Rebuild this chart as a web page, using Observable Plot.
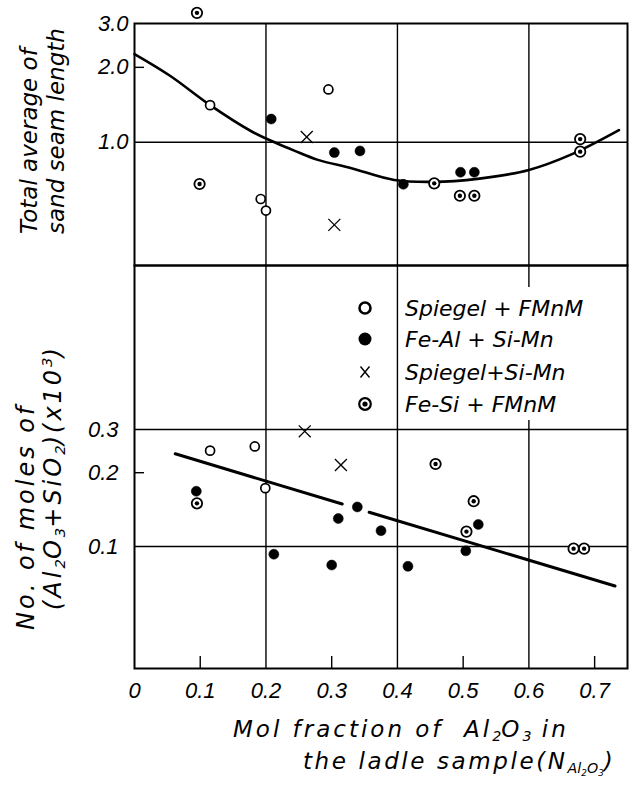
<!DOCTYPE html>
<html><head><meta charset="utf-8">
<script src="https://cdn.jsdelivr.net/npm/d3@7"></script>
<script src="https://cdn.jsdelivr.net/npm/@observablehq/plot@0.6"></script>
<style>
body{margin:0;background:#fff;}
#wrap{position:relative;width:633px;height:785px;overflow:hidden;font-family:"DejaVu Sans",sans-serif;font-style:italic;color:#000;background:#fff;}
#wrap > svg{position:absolute;left:0;overflow:visible;}
#wrap > svg text{font-style:italic;}
.ttl{position:absolute;white-space:nowrap;font-size:22px;line-height:25px;}
.rot{transform-origin:0 0;transform:rotate(-90deg);}
sub{font-size:0.62em;vertical-align:-0.3em;line-height:0;letter-spacing:0;}
sup{font-size:0.62em;vertical-align:0.6em;line-height:0;letter-spacing:0;}
#legbox{position:absolute;left:403px;top:287px;width:200px;height:133px;background:#fff;}
.leg{position:absolute;left:356px;height:30px;display:flex;align-items:center;white-space:nowrap;font-size:22px;}
.leg svg{width:18px;height:18px;margin-right:31px;}
</style></head>
<body><div id="wrap"></div>
<script>
// ---------- data ----------
const xTickValues = [0, 0.1, 0.2, 0.3, 0.4, 0.5, 0.6, 0.7];
const topYTicks = [1, 2, 3];
const lowYTicks = [0.1, 0.2, 0.3];

// upper panel: total average of sand seam length
const topSpiegelFMnM_x = [0.115, 0.192, 0.200, 0.295];
const topSpiegelFMnM_y = [1.41, 0.592, 0.532, 1.63];
const topFeAl_x = [0.208, 0.304, 0.343, 0.409, 0.496, 0.517];
const topFeAl_y = [1.24, 0.909, 0.923, 0.678, 0.758, 0.758];
const topSpiegelSi_x = [0.262, 0.304];
const topSpiegelSi_y = [1.05, 0.466];
const topFeSi_x = [0.095, 0.099, 0.456, 0.495, 0.517, 0.678, 0.678];
const topFeSi_y = [3.31, 0.68, 0.684, 0.61, 0.61, 1.03, 0.917];
const topCurve_x = [0, 0.054, 0.115, 0.177, 0.213, 0.243, 0.279, 0.33, 0.395, 0.47, 0.547, 0.6, 0.663, 0.737];
const topCurve_y = [2.26, 1.85, 1.41, 1.11, 1.0, 0.926, 0.85, 0.787, 0.706, 0.695, 0.728, 0.774, 0.89, 1.12];

// lower panel: no. of moles of (Al2O3+SiO2) (x10^3)
const lowSpiegelFMnM_x = [0.115, 0.183, 0.199];
const lowSpiegelFMnM_y = [0.246, 0.256, 0.173];
const lowFeAl_x = [0.094, 0.212, 0.300, 0.310, 0.339, 0.375, 0.416, 0.504, 0.523];
const lowFeAl_y = [0.168, 0.093, 0.084, 0.130, 0.145, 0.116, 0.083, 0.096, 0.123];
const lowSpiegelSi_x = [0.259, 0.314];
const lowSpiegelSi_y = [0.295, 0.215];
const lowFeSi_x = [0.095, 0.458, 0.505, 0.516, 0.668, 0.684];
const lowFeSi_y = [0.150, 0.217, 0.115, 0.153, 0.098, 0.098];
const lowLine_x = [0.062, 0.316, 0.357, 0.731];
const lowLine_y = [0.239, 0.149, 0.138, 0.069];
const lowLine_seg = [1, 1, 2, 2];

const legendLabels = ["Spiegel + FMnM", "Fe-Al + Si-Mn", "Spiegel+Si-Mn", "Fe-Si + FMnM"];

// ---------- helpers ----------
const zip = (xs, ys, extra) => xs.map((x, i) => ({x, y: ys[i], ...(extra ? {s: extra[i]} : {})}));
const tickFont = {fontFamily: "'Liberation Sans Narrow','Liberation Sans',sans-serif", fontSize: 22, fontStyle: "italic"};
const svgStyle = {background: "transparent", overflow: "visible", fontFamily: "'Liberation Sans Narrow','Liberation Sans',sans-serif", fontSize: "22px", fontStyle: "italic"};

function pointMarks(sp, fa, ss, fs) {
  return [
    Plot.dot(sp, {x: "x", y: "y", r: 4.5, fill: "white", stroke: "black", strokeWidth: 1.7}),
    Plot.dot(fa, {x: "x", y: "y", r: 5, fill: "black", stroke: "black", strokeWidth: 0.5}),
    Plot.dot(ss, {x: "x", y: "y", r: 5.5, symbol: "times", stroke: "black", strokeWidth: 1.3}),
    Plot.dot(fs, {x: "x", y: "y", r: 5.2, fill: "white", stroke: "black", strokeWidth: 1.8}),
    Plot.dot(fs, {x: "x", y: "y", r: 2.2, fill: "black"})
  ];
}

const W = 633, ML = 134, MR = 6;
const xScale = {domain: [0, 0.75]};

// ---------- upper plot ----------
const topPlot = Plot.plot({
  width: W, height: 266, marginTop: 23, marginBottom: 1, marginLeft: ML, marginRight: MR,
  style: svgStyle,
  x: {...xScale, axis: null},
  y: {type: "log", domain: [0.32, 3.0], axis: null},
  marks: [
    Plot.ruleX([0.2, 0.4, 0.6], {stroke: "black", strokeWidth: 1.4}),
    Plot.ruleY([1], {stroke: "black", strokeWidth: 1.4}),
    Plot.axisY({ticks: [2], tickSize: -10, text: null, label: null, strokeWidth: 1.4}),
    Plot.axisY({ticks: topYTicks, tickSize: 0, tickPadding: 6, label: null, tickFormat: d3.format(".1f"), ...tickFont}),
    Plot.line(zip(topCurve_x, topCurve_y), {x: "x", y: "y", curve: "catmull-rom", stroke: "black", strokeWidth: 2.6}),
    ...pointMarks(zip(topSpiegelFMnM_x, topSpiegelFMnM_y), zip(topFeAl_x, topFeAl_y), zip(topSpiegelSi_x, topSpiegelSi_y), zip(topFeSi_x, topFeSi_y)),
    Plot.frame({stroke: "black", strokeWidth: 2})
  ]
});
topPlot.style.top = "0px";

// ---------- lower plot ----------
const lowPlot = Plot.plot({
  width: W, height: 520, marginTop: 0, marginBottom: 117, marginLeft: ML, marginRight: MR,
  style: svgStyle,
  x: xScale,
  y: {type: "log", domain: [0.0318, 1.40], axis: null},
  marks: [
    Plot.ruleX([0.2, 0.4, 0.6], {stroke: "black", strokeWidth: 1.4}),
    Plot.ruleY([0.1, 0.3], {stroke: "black", strokeWidth: 1.4}),
    Plot.axisY({ticks: [0.2], tickSize: -10, text: null, label: null, strokeWidth: 1.4}),
    Plot.axisY({ticks: lowYTicks, tickSize: 0, tickPadding: 16, label: null, tickFormat: d3.format(".1f"), ...tickFont}),
    Plot.axisX({ticks: [0.1, 0.3, 0.5, 0.7], tickSize: -12, text: null, label: null, strokeWidth: 1.4}),
    Plot.axisX({ticks: xTickValues, tickSize: 0, tickPadding: 14, label: null,
      tickFormat: d => d === 0 ? "0" : d.toFixed(1), ...tickFont}),
    Plot.line(zip(lowLine_x, lowLine_y, lowLine_seg), {x: "x", y: "y", z: "s", stroke: "black", strokeWidth: 3}),
    ...pointMarks(zip(lowSpiegelFMnM_x, lowSpiegelFMnM_y), zip(lowFeAl_x, lowFeAl_y), zip(lowSpiegelSi_x, lowSpiegelSi_y), zip(lowFeSi_x, lowFeSi_y)),
    Plot.frame({stroke: "black", strokeWidth: 2})
  ]
});
lowPlot.style.top = "265px";

const wrap = document.getElementById("wrap");
wrap.appendChild(topPlot);
wrap.appendChild(lowPlot);

// ---------- titles ----------
function addDiv(cls, html, css) {
  const d = document.createElement("div");
  d.className = cls;
  d.innerHTML = html;
  Object.assign(d.style, css);
  wrap.appendChild(d);
  return d;
}
addDiv("ttl rot", "Total average of<br>sand seam length", {left: "16px", top: "234px", fontSize: "23px", lineHeight: "27px"});
addDiv("ttl rot", "No. of moles of<br><span style='padding-left:20px'>(Al<sub>2</sub>O<sub>3</sub>+SiO<sub>2</sub>)(x10<sup>3</sup>)</span>",
  {left: "13px", top: "630px", fontSize: "24px", lineHeight: "27px", letterSpacing: "3px"});
addDiv("ttl", "Mol fraction of&nbsp; Al<sub>2</sub>O<sub>3</sub> in", {left: "233px", top: "717px", fontSize: "23px", letterSpacing: "3px"});
addDiv("ttl", "the ladle sample(N<sub>Al<sub>2</sub>O<sub>3</sub></sub>)", {left: "303px", top: "749px", fontSize: "23px", letterSpacing: "2.6px"});

// ---------- legend ----------
addDiv("", "", {}).id = "legbox";
const icons = [
  "<circle cx='9' cy='9' r='5.5' fill='white' stroke='black' stroke-width='2.6'/>",
  "<circle cx='9' cy='9' r='6.5' fill='black'/>",
  "<path d='M4.5 3.5 L13.5 14.5 M13.5 3.5 L4.5 14.5' stroke='black' stroke-width='1.4' fill='none'/>",
  "<circle cx='9' cy='9' r='5.8' fill='white' stroke='black' stroke-width='2.2'/><circle cx='9' cy='9' r='2.6' fill='black'/>"
];
const rowY = [308, 339, 372, 404];
legendLabels.forEach((lab, i) => {
  addDiv("leg", `<svg viewBox='0 0 18 18'>${icons[i]}</svg><span>${lab}</span>`, {top: (rowY[i] - 15) + "px"});
});
</script>
</body></html>
